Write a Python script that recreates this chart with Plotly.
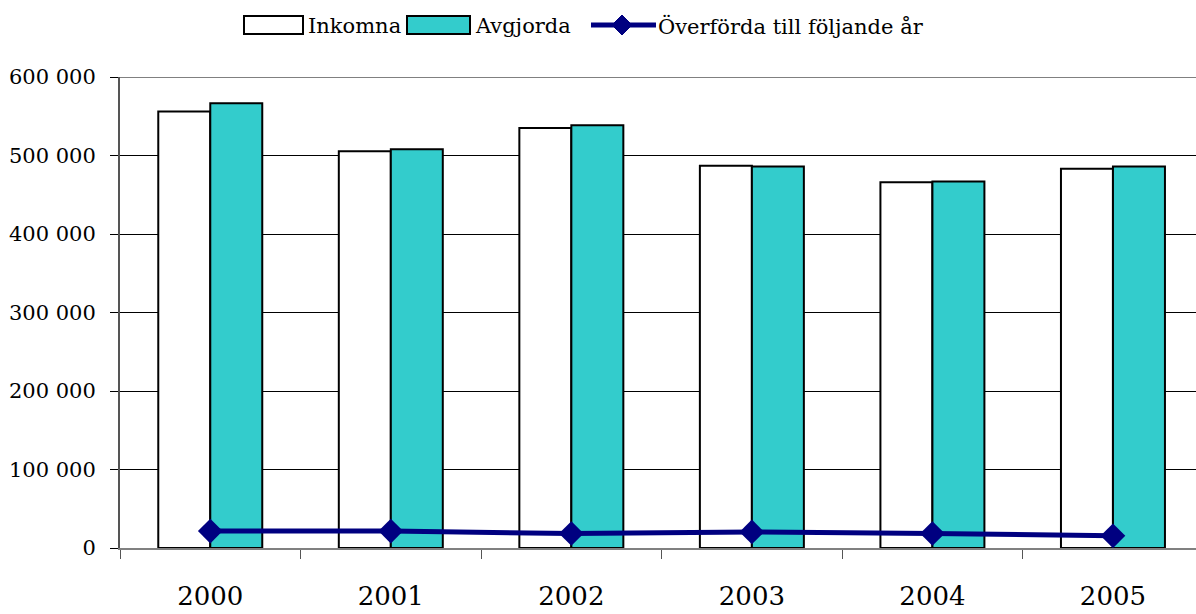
import plotly.graph_objects as go

years = ["2000", "2001", "2002", "2003", "2004", "2005"]
inkomna = [556000, 505500, 535000, 487000, 466000, 483000]
avgjorda = [566500, 508000, 538500, 486000, 467000, 486000]
overforda = [21500, 21500, 18500, 20500, 18500, 15500]
ytick_vals = [0, 100000, 200000, 300000, 400000, 500000, 600000]
ytick_text = ["0", "100 000", "200 000", "300 000", "400 000", "500 000", "600 000"]
series_names = ["Inkomna", "Avgjorda", "Överförda till följande år"]

FONT = "DejaVu Serif"
W, H = 1196, 614
L, R, T, B = 120, 0, 77, 66
NAVY = "#000080"
TEAL = "#33CCCC"

fig = go.Figure()
fig.add_trace(go.Bar(x=years, y=inkomna, name=series_names[0],
                     marker=dict(color="white", line=dict(color="black", width=2))))
fig.add_trace(go.Bar(x=years, y=avgjorda, name=series_names[1],
                     marker=dict(color=TEAL, line=dict(color="black", width=2))))
fig.add_trace(go.Scatter(x=years, y=overforda, name=series_names[2],
                         mode="lines+markers",
                         line=dict(color=NAVY, width=5),
                         marker=dict(symbol="diamond", size=19, color=NAVY)))

fig.update_layout(
    width=W, height=H,
    margin=dict(l=L, r=R, t=T, b=B, autoexpand=False),
    plot_bgcolor="white", paper_bgcolor="white",
    barmode="group", bargap=0.424, bargroupgap=0,
    font=dict(family=FONT, color="black", size=21),
    showlegend=False,
)
fig.update_xaxes(type="category", range=[-0.5, 5.46], tickson="boundaries",
                 ticks="outside", ticklen=9, tickcolor="#555", tickwidth=1,
                 showline=True, linecolor="#808080", linewidth=2, automargin=False,
                 showgrid=False, tickfont=dict(family=FONT, size=26, color="black"),
                 ticklabelstandoff=24)
fig.update_yaxes(range=[0, 600000], tickvals=ytick_vals, ticktext=ytick_text,
                 ticks="outside", ticklen=8, tickcolor="black", automargin=False,
                 showline=True, linecolor="#555", linewidth=2,
                 showgrid=True, gridcolor="black", gridwidth=1, zeroline=False,
                 tickfont=dict(family=FONT, size=21, color="black"), ticklabelstandoff=10)
fig.add_shape(type="line", xref="paper", yref="y", x0=0, x1=1, y0=600000, y1=600000,
              line=dict(color="#808080", width=2))

# manual legend (pixel positions converted to paper coords)
pw, ph = W - L - R, H - T - B
def px(x):
    return (x - L) / pw
def py(y):
    return (H - B - y) / ph

ymid = 25
fig.add_shape(type="rect", xref="paper", yref="paper",
              x0=px(244), x1=px(303), y0=py(34), y1=py(16),
              line=dict(color="black", width=2), fillcolor="white")
fig.add_shape(type="rect", xref="paper", yref="paper",
              x0=px(407), x1=px(470), y0=py(34), y1=py(16),
              line=dict(color="black", width=2), fillcolor=TEAL)
fig.add_shape(type="line", xref="paper", yref="paper",
              x0=px(591), x1=px(656), y0=py(ymid), y1=py(ymid),
              line=dict(color=NAVY, width=5))
cx, d = 622, 10
fig.add_shape(type="path", xref="paper", yref="paper",
              path=f"M {px(cx)} {py(ymid-d)} L {px(cx+d)} {py(ymid)} L {px(cx)} {py(ymid+d)} L {px(cx-d)} {py(ymid)} Z",
              line=dict(color=NAVY, width=1), fillcolor=NAVY)
for name, x0 in zip(series_names, [306, 473, 656]):
    fig.add_annotation(text=name, xref="paper", yref="paper", x=px(x0), y=py(ymid + 1),
                       xanchor="left", yanchor="middle", showarrow=False,
                       font=dict(family=FONT, size=21, color="black"))

fig.write_html("out.html", config={"displayModeBar": False},
               post_script="document.body.style.margin='0';document.body.style.overflow='hidden';")
